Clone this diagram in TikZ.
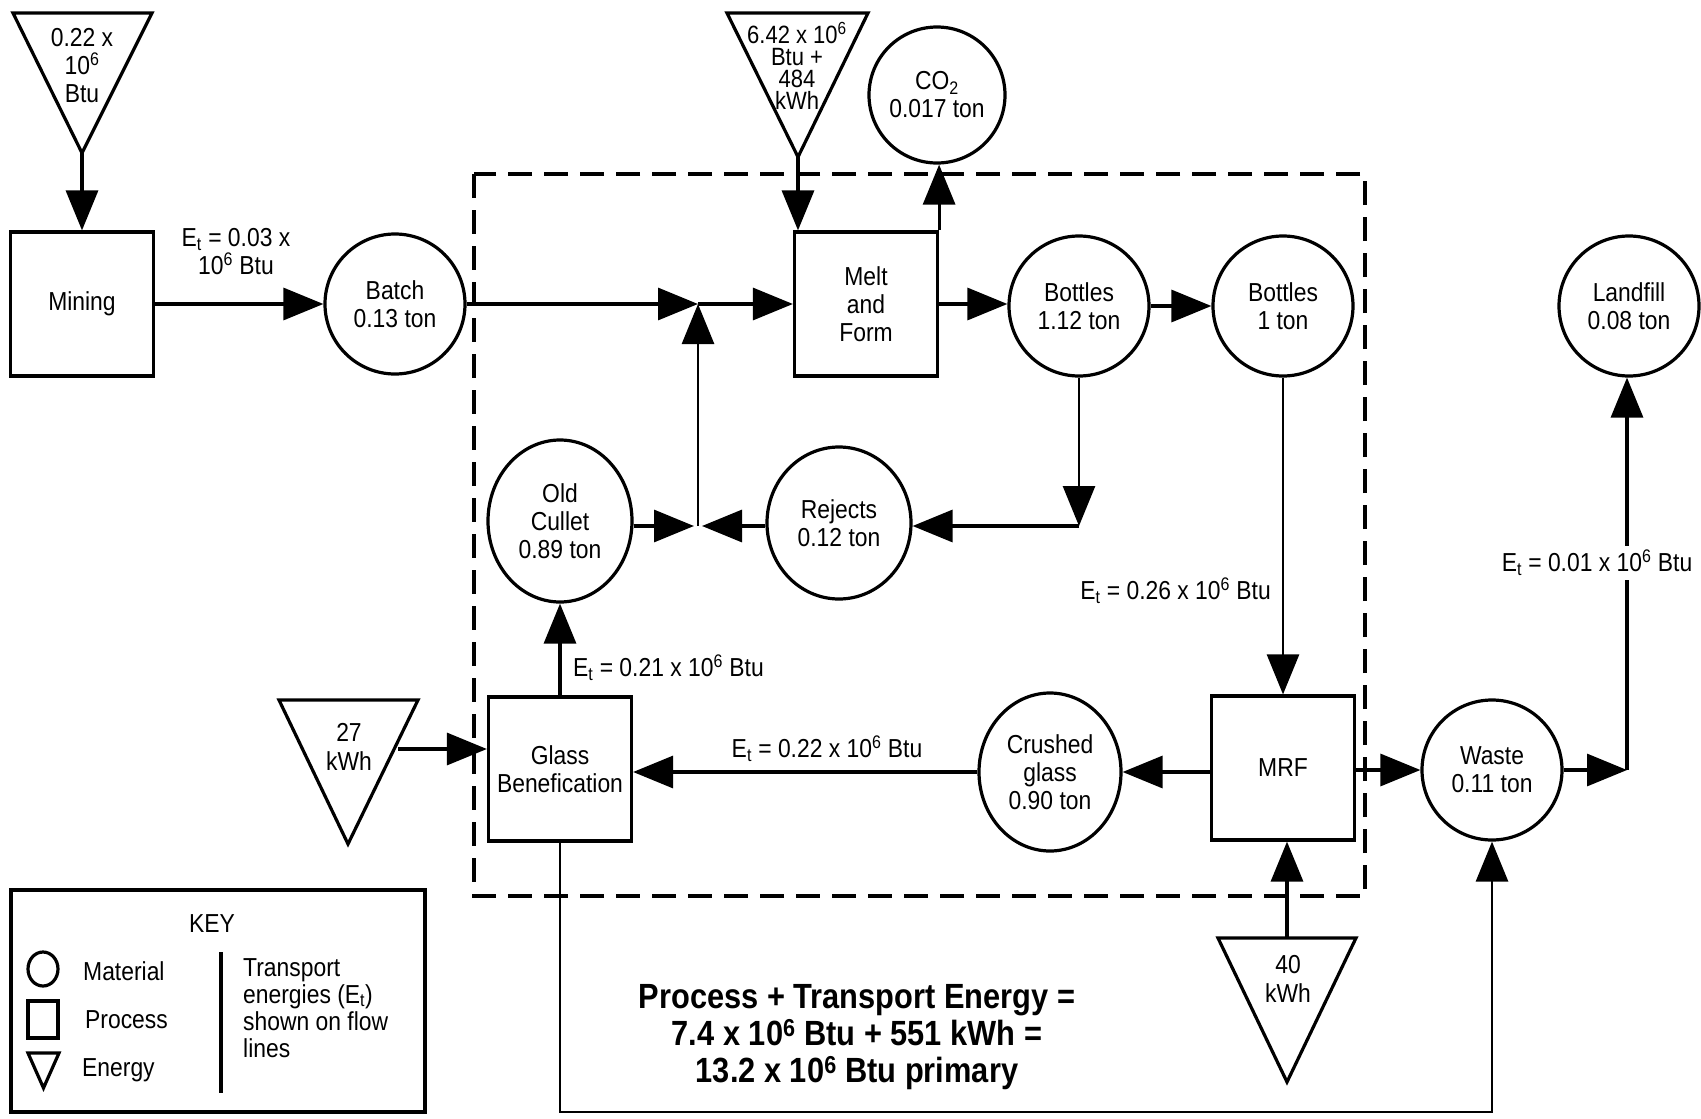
\documentclass[tikz,border=0pt]{standalone}
\usepackage{fontspec}
\setmainfont{Liberation Sans}[FakeStretch=0.88]
\usetikzlibrary{arrows.meta,shapes.geometric}
\begin{document}
\begin{tikzpicture}[x=1pt,y=-1pt,font=\fontsize{26}{28}\selectfont,
  lw/.style={line width=3.2pt},
  mat/.style={draw,circle,lw,minimum size=140pt,inner sep=0pt,align=center},
  ell/.style={draw,ellipse,lw,inner sep=0pt,align=center},
  proc/.style={draw,rectangle,lw,minimum width=143pt,minimum height=144pt,inner sep=0pt,align=center},
  flow/.style={lw,-{Triangle[length=40pt,width=32pt]}},
  thinflow/.style={line width=2.7pt,-{Triangle[length=40pt,width=32pt]}},
  lbl/.style={inner sep=1pt,align=center},
  energy/.style={lw,line join=miter}]
\useasboundingbox (0,0) rectangle (1701,1119);

% dashed system boundary
\draw[line width=3.2pt,dash pattern=on 24pt off 12pt] (474,174) rectangle (1365,896);

% nodes
\node[proc] (mining) at (82,304) {Mining};
\node[mat] (batch) at (395,304) {Batch\\0.13 ton};
\node[proc] (melt) at (866,304) {Melt\\and\\Form};
\node[mat,minimum size=136pt] (co2) at (937,95) {CO\textsubscript{2}\\0.017 ton};
\node[mat] (b112) at (1079,306) {Bottles\\1.12 ton};
\node[mat] (b1) at (1283,306) {Bottles\\1 ton};
\node[mat] (landfill) at (1629,306) {Landfill\\0.08 ton};
\node[ell,minimum width=144pt,minimum height=162pt] (cullet) at (560,521) {Old\\Cullet\\0.89 ton};
\node[ell,minimum width=144pt,minimum height=152pt] (rejects) at (839,523) {Rejects\\0.12 ton};
\node[proc] (mrf) at (1283,768) {MRF};
\node[ell,minimum width=142pt,minimum height=158pt] (crushed) at (1050,772) {Crushed\\glass\\0.90 ton};
\node[proc] (glass) at (560,769) {Glass\\Benefication};
\node[mat] (waste) at (1492,770) {Waste\\0.11 ton};

% energy triangles
\draw[energy] (13,13) -- (152,13) -- (82,153) -- cycle;
\coordinate (t1) at (82,153);
\node[lbl] (t1txt) at (82,66) {0.22 x\\10\textsuperscript{6}\\Btu};

\draw[energy] (727,13) -- (868,13) -- (798,157) -- cycle;
\coordinate (t2) at (798,157);
\node[lbl,font=\fontsize{25}{22}\selectfont] (t2txt) at (797,66) {6.42 x 10\textsuperscript{6}\\Btu +\\484\\kWh};

\draw[energy] (279,700) -- (418,700) -- (348,844) -- cycle;
\coordinate (t3) at (398,749);
\node[lbl,font=\fontsize{26}{29}\selectfont] (t3txt) at (349,747) {27\\kWh};

\draw[energy] (1218,938) -- (1356,938) -- (1287,1082) -- cycle;
\coordinate (t4) at (1287,938);
\node[lbl,font=\fontsize{26}{29}\selectfont] (t4txt) at (1288,979) {40\\kWh};

% junctions
\coordinate (j1) at (698,304);
\coordinate (j2) at (698,526);
\coordinate (j3) at (1079,526);
\coordinate (j4) at (1627,770);

% flows
\draw[flow] (t1) -- (mining);
\draw[flow] (mining) -- (batch);
\node[lbl] (et003) at (236,252) {E\textsubscript{t} = 0.03 x\\10\textsuperscript{6} Btu};
\draw[flow] (batch) -- (j1);
\draw[thinflow] (j2) -- (j1);
\draw[flow] (j1) -- (melt);
\draw[flow] (t2) -- (t2 |- melt.north);
\draw[flow] (melt.north east) -- (melt.north east |- co2.south);
\draw[flow] (melt) -- (b112.west |- melt);
\draw[flow] (b112) -- (b1);
\draw[thinflow] (b112) -- (j3);
\draw[flow] (j3) -- (rejects.east |- j3);
\draw[flow] (rejects.west |- j2) -- ([xshift=4pt]j2);
\draw[flow] (cullet.east |- j2) -- ([xshift=-4pt]j2);
\draw[thinflow] (b1) -- (mrf);
\node[lbl,anchor=east] (et026) at (1272,591) {E\textsubscript{t} = 0.26 x 10\textsuperscript{6} Btu};
\draw[flow] (mrf.west |- crushed) -- (crushed);
\draw[flow] (crushed) -- (glass.east |- crushed);
\node[lbl] (et022) at (827,749) {E\textsubscript{t} = 0.22 x 10\textsuperscript{6} Btu};
\draw[flow] (glass) -- (cullet);
\node[lbl,anchor=west] (et021) at (572,668) {E\textsubscript{t} = 0.21 x 10\textsuperscript{6} Btu};
\draw[flow] (t3) -- (glass.west |- t3);
\draw[flow] (t4) -- (t4 |- mrf.south);
\draw[flow] (mrf.east |- waste) -- (waste);
\draw[flow] (waste) -- (j4);
\draw[flow] (j4) -- (j4 |- landfill.south);
\node[lbl,fill=white,inner sep=4pt] (et001) at (1597,563) {E\textsubscript{t} = 0.01 x 10\textsuperscript{6} Btu};
\draw[line width=2.9pt,-{Triangle[length=40pt,width=32pt]}] (glass.south) -- (glass.south |- 0,1112) -| (waste.south);

% key
\draw[lw] (11,890) rectangle (425,1112);
\node[lbl] (keyhead) at (212,924) {KEY};
\draw[lw] (43,969) ellipse (15 and 17);
\draw[lw] (28,1001) rectangle (58,1038);
\draw[lw] (28,1053) -- (59,1053) -- (43.5,1088) -- cycle;
\node[lbl,anchor=west] (kmat) at (82,971) {Material};
\node[lbl,anchor=west] (kproc) at (84,1020) {Process};
\node[lbl,anchor=west] (kene) at (81,1070) {Energy};
\draw[lw] (221,952) -- (221,1093);
\node[lbl,anchor=north west,align=left,font=\fontsize{26}{27}\selectfont] (ktrans) at (242,957) {Transport\\energies (E\textsubscript{t})\\shown on flow\\lines};

% total
\node[lbl,font=\bfseries\fontsize{35}{37}\selectfont] (total) at (857,1037) {Process + Transport Energy =\\7.4 x 10\textsuperscript{6} Btu + 551 kWh =\\13.2 x 10\textsuperscript{6} Btu primary};
\end{tikzpicture}
\end{document}
